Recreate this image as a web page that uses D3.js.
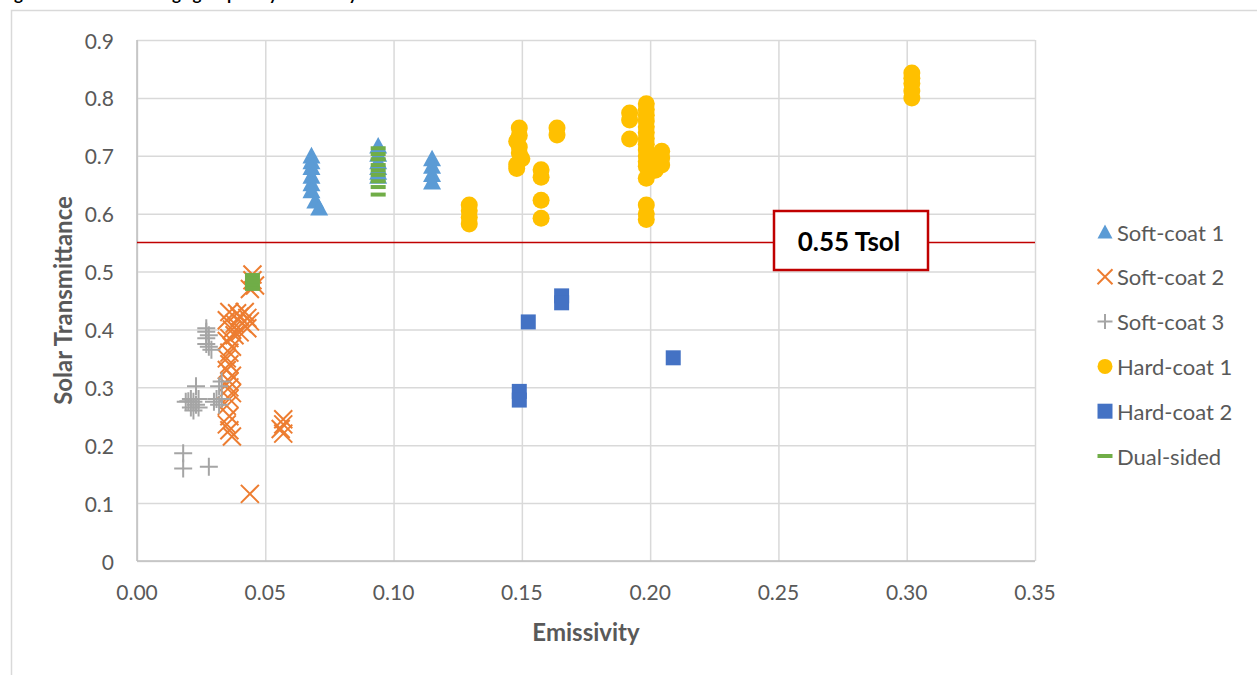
<!DOCTYPE html>
<html>
<head>
<meta charset="utf-8">
<script src="https://cdn.jsdelivr.net/npm/d3@7"></script>
<style>
  body { margin: 0; background: #fff; }
  text { font-family: Lato, "Open Sans", sans-serif; }
</style>
</head>
<body>
<svg id="chart"></svg>
<script>
// data: [emissivity, solar transmittance]
var softCoat1 = [
  [0.068, 0.700], [0.068, 0.690], [0.068, 0.680], [0.068, 0.665], [0.068, 0.652], [0.068, 0.640],
  [0.0695, 0.622], [0.071, 0.610],
  [0.094, 0.717], [0.094, 0.703], [0.094, 0.690], [0.094, 0.680], [0.094, 0.672], [0.094, 0.665],
  [0.115, 0.695], [0.115, 0.682], [0.115, 0.668], [0.115, 0.655]
];
var softCoat2 = [
  [0.045, 0.495], [0.045, 0.485], [0.046, 0.476], [0.044, 0.470],
  [0.042, 0.430], [0.043, 0.420], [0.044, 0.414], [0.041, 0.410], [0.040, 0.422], [0.039, 0.428],
  [0.038, 0.410], [0.037, 0.400], [0.036, 0.430], [0.035, 0.416], [0.043, 0.402], [0.040, 0.395],
  [0.038, 0.390], [0.036, 0.385], [0.035, 0.380], [0.037, 0.370], [0.036, 0.360], [0.035, 0.350],
  [0.036, 0.340], [0.035, 0.330], [0.037, 0.320], [0.036, 0.310], [0.036, 0.300], [0.037, 0.290],
  [0.036, 0.280], [0.035, 0.268], [0.036, 0.250], [0.035, 0.236], [0.036, 0.226], [0.037, 0.215],
  [0.057, 0.245], [0.057, 0.236], [0.056, 0.228], [0.057, 0.220],
  [0.044, 0.116]
];
var softCoat3 = [
  [0.027, 0.402], [0.027, 0.396], [0.028, 0.390], [0.027, 0.385], [0.027, 0.375], [0.028, 0.370], [0.029, 0.365],
  [0.023, 0.302], [0.021, 0.280], [0.022, 0.275], [0.020, 0.276], [0.023, 0.270], [0.024, 0.280],
  [0.021, 0.265], [0.022, 0.260], [0.019, 0.275], [0.024, 0.265],
  [0.033, 0.310], [0.032, 0.302], [0.031, 0.280], [0.030, 0.275], [0.032, 0.270], [0.033, 0.280],
  [0.018, 0.186], [0.018, 0.160], [0.028, 0.163]
];
var hardCoat1 = [
  [0.1295, 0.615], [0.1295, 0.605], [0.1295, 0.594], [0.1295, 0.582],
  [0.149, 0.748], [0.149, 0.735], [0.148, 0.725], [0.149, 0.715], [0.149, 0.705], [0.150, 0.695],
  [0.148, 0.685], [0.148, 0.678],
  [0.1575, 0.676], [0.1575, 0.663], [0.1575, 0.623], [0.1575, 0.592],
  [0.1637, 0.748], [0.1637, 0.736],
  [0.192, 0.774], [0.192, 0.762], [0.192, 0.729],
  [0.1985, 0.790], [0.1985, 0.780], [0.1985, 0.770], [0.1985, 0.760], [0.1985, 0.750], [0.1985, 0.740],
  [0.1985, 0.730], [0.1985, 0.720], [0.1985, 0.710], [0.1985, 0.700], [0.1985, 0.690], [0.1985, 0.682],
  [0.1985, 0.661], [0.1985, 0.615], [0.1985, 0.600], [0.1985, 0.590],
  [0.202, 0.675], [0.2045, 0.708], [0.2045, 0.696], [0.2045, 0.684],
  [0.302, 0.843], [0.302, 0.834], [0.302, 0.825], [0.302, 0.812], [0.302, 0.800]
];
var hardCoat2 = [
  [0.149, 0.293], [0.149, 0.278], [0.1525, 0.413], [0.1655, 0.458], [0.1655, 0.446], [0.209, 0.351]
];
var dualSided = [
  [0.045, 0.494], [0.045, 0.488], [0.045, 0.482], [0.045, 0.476], [0.045, 0.470],
  [0.094, 0.713], [0.094, 0.703], [0.094, 0.694], [0.094, 0.684], [0.094, 0.675], [0.094, 0.667],
  [0.094, 0.656], [0.094, 0.646], [0.094, 0.633]
];
var seriesNames = ['Soft-coat 1', 'Soft-coat 2', 'Soft-coat 3', 'Hard-coat 1', 'Hard-coat 2', 'Dual-sided'];
var seriesColors = ['#5b9bd5', '#ed7d31', '#a5a5a5', '#ffc000', '#4472c4', '#70ad47'];
var seriesShapes = ['triangle', 'x', 'plus', 'circle', 'square', 'dash'];
var seriesData = [softCoat1, softCoat2, softCoat3, hardCoat1, hardCoat2, dualSided];
var xTicks = [0, 0.05, 0.10, 0.15, 0.20, 0.25, 0.30, 0.35];
var yTicks = [0, 0.1, 0.2, 0.3, 0.4, 0.5, 0.6, 0.7, 0.8, 0.9];
var thresholdValue = 0.55;
var thresholdLabel = '0.55 Tsol';

var width = 1257, height = 675;
var plotLeft = 137, plotRight = 1035, plotTop = 40, plotBottom = 561;

var svg = d3.select('#chart').attr('width', width).attr('height', height);

var x = d3.scaleLinear().domain([0, 0.35]).range([plotLeft, plotRight]);
var y = d3.scaleLinear().domain([0, 0.9]).range([plotBottom, plotTop]);

// title cut off at the top of the picture
svg.append('text')
  .attr('x', 0).attr('y', 0)
  .style('font-size', '17px').style('font-weight', 'bold').attr('fill', '#000')
  .text('Figure 3: Low-E Coatings grouped by Emissivity');

// chart frame
svg.append('rect')
  .attr('x', 11.5).attr('y', 10.5).attr('width', 1400).attr('height', 800)
  .attr('fill', 'none').attr('stroke', '#d9d9d9').attr('stroke-width', 1.5);

// gridlines
svg.append('g')
  .attr('transform', 'translate(0,' + plotBottom + ')')
  .call(d3.axisBottom(x).tickValues(xTicks).tickSize(-(plotBottom - plotTop)).tickFormat(''))
  .call(function(g) { g.select('.domain').remove(); })
  .selectAll('line').attr('stroke', '#d9d9d9').attr('stroke-width', 1.5);

svg.append('g')
  .attr('transform', 'translate(' + plotLeft + ',0)')
  .call(d3.axisLeft(y).tickValues(yTicks).tickSize(-(plotRight - plotLeft)).tickFormat(''))
  .call(function(g) { g.select('.domain').remove(); })
  .selectAll('line').attr('stroke', '#d9d9d9').attr('stroke-width', 1.5);

// axis lines
svg.append('line').attr('x1', plotLeft).attr('x2', plotRight).attr('y1', plotBottom).attr('y2', plotBottom)
  .attr('stroke', '#bfbfbf').attr('stroke-width', 1.5);
svg.append('line').attr('x1', plotLeft).attr('x2', plotLeft).attr('y1', plotTop).attr('y2', plotBottom)
  .attr('stroke', '#bfbfbf').attr('stroke-width', 1.5);

// tick labels
svg.selectAll('.xlab').data(xTicks).enter().append('text')
  .attr('class', 'xlab')
  .attr('x', function(d) { return x(d); }).attr('y', 591)
  .attr('text-anchor', 'middle').attr('dominant-baseline', 'central')
  .attr('fill', '#595959').style('font-size', '21px')
  .text(function(d) { return d3.format('.2f')(d); });

svg.selectAll('.ylab').data(yTicks).enter().append('text')
  .attr('class', 'ylab')
  .attr('x', 114).attr('y', function(d) { return y(d); })
  .attr('text-anchor', 'end').attr('dominant-baseline', 'central')
  .attr('fill', '#595959').style('font-size', '21px')
  .text(function(d) { return d === 0 ? '0' : d3.format('.1f')(d); });

// axis titles
svg.append('text')
  .attr('x', (plotLeft + plotRight) / 2).attr('y', 631)
  .attr('text-anchor', 'middle').attr('dominant-baseline', 'central')
  .attr('fill', '#595959').style('font-size', '24px').style('font-weight', 'bold')
  .text('Emissivity');

svg.append('text')
  .attr('transform', 'translate(62,' + (plotTop + plotBottom) / 2 + ') rotate(-90)')
  .attr('text-anchor', 'middle').attr('dominant-baseline', 'central')
  .attr('fill', '#595959').style('font-size', '24px').style('font-weight', 'bold')
  .text('Solar Transmittance');

// marker paths centered on 0,0
function markerPath(shape, s) {
  var h = s / 2;
  if (shape === 'triangle') return 'M0,' + (-h) + 'L' + h + ',' + (h * 0.85) + 'L' + (-h) + ',' + (h * 0.85) + 'Z';
  if (shape === 'x') return 'M' + (-h) + ',' + (-h) + 'L' + h + ',' + h + 'M' + h + ',' + (-h) + 'L' + (-h) + ',' + h;
  if (shape === 'plus') return 'M' + (-h) + ',0L' + h + ',0M0,' + (-h) + 'L0,' + h;
  if (shape === 'circle') return 'M' + h + ',0A' + h + ',' + h + ' 0 1,1 ' + (-h) + ',0A' + h + ',' + h + ' 0 1,1 ' + h + ',0Z';
  if (shape === 'square') return 'M' + (-h) + ',' + (-h) + 'H' + h + 'V' + h + 'H' + (-h) + 'Z';
  if (shape === 'dash') return 'M' + (-h) + ',-2H' + h + 'V2H' + (-h) + 'Z';
}
function isStroked(shape) { return shape === 'x' || shape === 'plus'; }
var markerSize = { triangle: 18, x: 18, plus: 18, circle: 17, square: 15, dash: 15 };

seriesData.forEach(function(data, i) {
  var shape = seriesShapes[i];
  svg.append('g').selectAll('path').data(data).enter().append('path')
    .attr('transform', function(d) { return 'translate(' + x(d[0]) + ',' + y(d[1]) + ')'; })
    .attr('d', markerPath(shape, markerSize[shape]))
    .attr('fill', isStroked(shape) ? 'none' : seriesColors[i])
    .attr('stroke', isStroked(shape) ? seriesColors[i] : 'none')
    .attr('stroke-width', 2);
});

// threshold line and label
svg.append('line')
  .attr('x1', plotLeft).attr('x2', plotRight).attr('y1', y(thresholdValue)).attr('y2', y(thresholdValue))
  .attr('stroke', '#c00000').attr('stroke-width', 1.5);

svg.append('rect')
  .attr('x', 774).attr('y', 211).attr('width', 154).attr('height', 59)
  .attr('fill', '#fff').attr('stroke', '#c00000').attr('stroke-width', 2.5);
svg.append('text')
  .attr('x', 849).attr('y', 241)
  .attr('text-anchor', 'middle').attr('dominant-baseline', 'central')
  .attr('fill', '#000').style('font-size', '26px').style('font-weight', 'bold')
  .text(thresholdLabel);

// legend
var legend = svg.append('g');
seriesNames.forEach(function(name, i) {
  var ly = 232 + i * 44.8;
  var shape = seriesShapes[i];
  legend.append('path')
    .attr('transform', 'translate(1105,' + ly + ')')
    .attr('d', markerPath(shape, 15))
    .attr('fill', isStroked(shape) ? 'none' : seriesColors[i])
    .attr('stroke', isStroked(shape) ? seriesColors[i] : 'none')
    .attr('stroke-width', 2);
  legend.append('text')
    .attr('x', 1117).attr('y', ly)
    .attr('dominant-baseline', 'central')
    .attr('fill', '#595959').style('font-size', '22px')
    .text(name);
});
</script>
</body>
</html>
